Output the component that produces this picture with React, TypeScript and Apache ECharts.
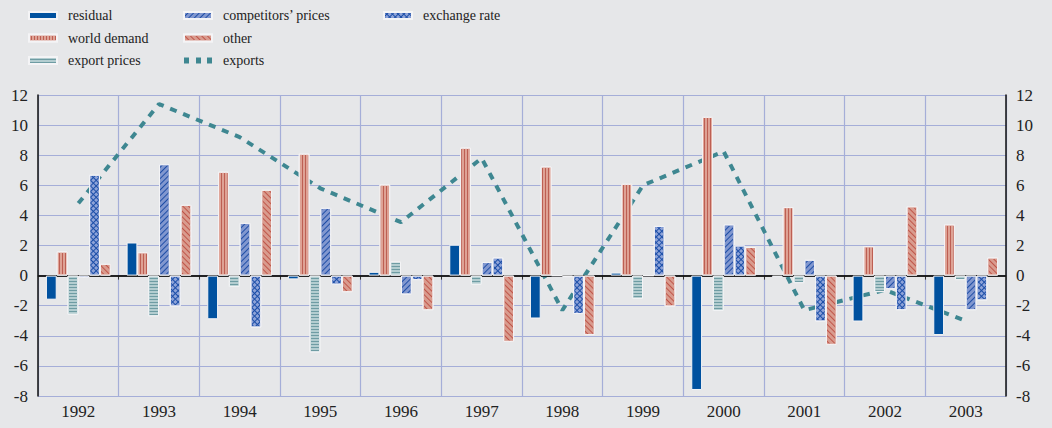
import React, { useEffect, useRef } from "react";
import * as echarts from "echarts";

const years = ["1992", "1993", "1994", "1995", "1996", "1997", "1998", "1999", "2000", "2001", "2002", "2003"];
const residual = [-1.6, 2.2, -2.9, -0.25, 0.25, 2.05, -2.85, 0.2, -7.6, -0.1, -3.05, -3.95];
const worldDemand = [1.6, 1.55, 6.9, 8.1, 6.05, 8.5, 7.25, 6.1, 10.55, 4.55, 1.95, 3.4];
const exportPrices = [-2.6, -2.7, -0.75, -5.1, 0.93, -0.6, 0, -1.55, -2.35, -0.5, -1.1, -0.3];
const competitorsPrices = [-0.15, 7.4, 3.5, 4.5, -1.25, 0.9, -0.1, 0, 3.4, 1.05, -0.9, -2.3];
const exchangeRate = [6.7, -2.05, -3.45, -0.6, -0.3, 1.2, -2.55, 3.3, 2.0, -3.05, -2.3, -1.65];
const other = [0.78, 4.7, 5.7, -1.1, -2.3, -4.4, -3.95, -2.05, 1.9, -4.6, 4.6, 1.2];
const exportsLine = [4.8, 11.4, 9.2, 5.8, 3.55, 7.8, -2.3, 6.0, 8.25, -2.3, -0.95, -3.0];
const yTicks = { min: -8, max: 12, interval: 2 };

const FONT = "'Liberation Serif', 'Times New Roman', serif";

export default function App() {
  const ref = useRef<HTMLDivElement>(null);
  useEffect(() => {
    document.body.style.margin = "0";
    const chart = echarts.init(ref.current!, null, { renderer: "svg" });
    const barBase = {
      type: "bar" as const,
      barWidth: 10.8,
      barGap: "0%",
      z: 3,
    };
    const legendCommon = {
      orient: "vertical" as const,
      top: 2,
      padding: 5,
      itemWidth: 28,
      itemHeight: 7,
      itemGap: 5.5,
      textStyle: { fontFamily: FONT, fontSize: 14, color: "#222", padding: [0, 0, 0, 6], lineHeight: 17 },
      selectedMode: false,
    };
    const option: any = {
      animation: false,
      backgroundColor: "#e6e7e9",
      legend: [
        { ...legendCommon, left: 23, data: [
          { name: "residual", icon: "rect" },
          { name: "world demand", icon: "rect" },
          { name: "export prices", icon: "rect" },
        ] },
        { ...legendCommon, left: 178, data: [
          { name: "competitors’ prices", icon: "rect" },
          { name: "other", icon: "rect" },
          { name: "exports", icon: "path://M0,0h5v6h-5z M12,0h5v6h-5z M23,0h5v6h-5z" },
        ] },
        { ...legendCommon, left: 378, data: [{ name: "exchange rate", icon: "rect" }] },
      ],
      grid: { left: 38, right: 46, top: 95, bottom: 32 },
      xAxis: {
        type: "category",
        data: years,
        axisLine: { lineStyle: { color: "#333", width: 1.5 } },
        axisTick: { show: true, length: 4, lineStyle: { color: "#333" } },
        axisLabel: { fontFamily: FONT, fontSize: 17, color: "#222", margin: 7 },
        splitLine: { show: true, lineStyle: { color: "#a5aed8", width: 1.2 } },
      },
      yAxis: [
        {
          type: "value",
          ...yTicks,
          position: "left",
          axisLine: { show: true, lineStyle: { color: "#111", width: 1.5 } },
          axisTick: { show: false },
          axisLabel: { fontFamily: FONT, fontSize: 17, color: "#222", margin: 10 },
          splitLine: { show: true, lineStyle: { color: "#a5aed8", width: 1.2 } },
        },
        {
          type: "value",
          ...yTicks,
          position: "right",
          axisLine: { show: true, lineStyle: { color: "#111", width: 1.5 } },
          axisTick: { show: false },
          axisLabel: { fontFamily: FONT, fontSize: 17, color: "#222", margin: 10 },
          splitLine: { show: false },
        },
      ],
      series: [
        {
          ...barBase,
          name: "residual",
          data: residual,
          itemStyle: { color: "#00519f", borderColor: "#f4f4f6", borderWidth: 1 },
          markLine: {
            silent: true,
            symbol: "none",
            label: { show: false },
            lineStyle: { color: "#111", type: "solid", width: 1.6 },
            data: [{ yAxis: 0 }],
            z: 2,
          },
        },
        {
          ...barBase,
          name: "world demand",
          data: worldDemand,
          itemStyle: {
            color: "#bd5f53",
            borderColor: "#f4f4f6",
            borderWidth: 1,
            decal: { symbol: "rect", symbolSize: 1, color: "#dea295", dashArrayX: [2, 1], dashArrayY: [10, 0], rotation: 0 },
          },
        },
        {
          ...barBase,
          name: "export prices",
          data: exportPrices,
          itemStyle: {
            color: "#6e9ca3",
            borderColor: "#f4f4f6",
            borderWidth: 1,
            decal: { symbol: "rect", symbolSize: 1, color: "#b3cdd0", dashArrayX: [10, 0], dashArrayY: [2, 1], rotation: 0 },
          },
        },
        {
          ...barBase,
          name: "competitors’ prices",
          data: competitorsPrices,
          itemStyle: {
            color: "#1f4ea6",
            borderColor: "#f4f4f6",
            borderWidth: 1,
            decal: { symbol: "rect", symbolSize: 1, color: "#8197cf", dashArrayX: [3, 1], dashArrayY: [10, 0], rotation: Math.PI / 4 },
          },
        },
        {
          ...barBase,
          name: "exchange rate",
          data: exchangeRate,
          itemStyle: {
            color: "#1b4ea8",
            borderColor: "#f4f4f6",
            borderWidth: 1,
            decal: { symbol: "rect", symbolSize: 1, color: "#8ea3d8", dashArrayX: [3, 1], dashArrayY: [3, 1], rotation: Math.PI / 4 },
          },
        },
        {
          ...barBase,
          name: "other",
          data: other,
          itemStyle: {
            color: "#bf5549",
            borderColor: "#f4f4f6",
            borderWidth: 1,
            decal: { symbol: "rect", symbolSize: 1, color: "#d99b8e", dashArrayX: [3, 1], dashArrayY: [10, 0], rotation: -Math.PI / 4 },
          },
        },
        {
          name: "exports",
          type: "line",
          data: exportsLine,
          z: 1,
          symbol: "none",
          showSymbol: false,
          lineStyle: { color: "#3e8791", width: 4, type: [7, 7] },
          itemStyle: { color: "#3e8791" },
        },
      ],
    };
    chart.setOption(option);
    return () => chart.dispose();
  }, []);
  return <div ref={ref} style={{ position: "absolute", left: 0, top: 0, width: 1052, height: 428 }} />;
}
